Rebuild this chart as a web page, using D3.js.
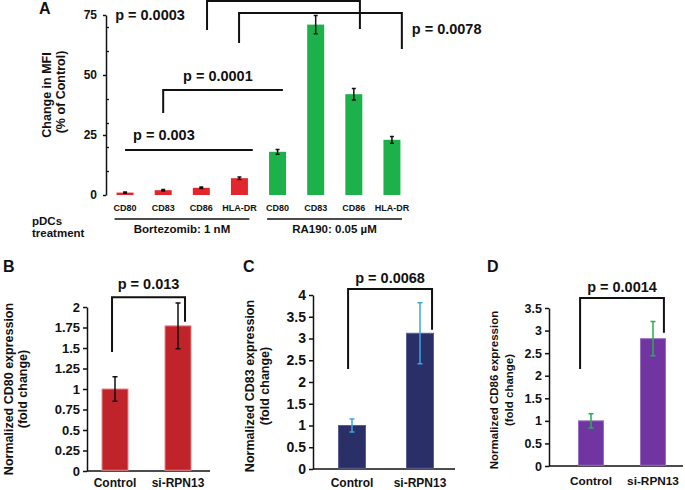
<!DOCTYPE html>
<html>
<head>
<meta charset="utf-8">
<script src="https://cdn.jsdelivr.net/npm/d3@7"></script>
<style>
body{margin:0;background:#fff}
svg{display:block;font-family:"Liberation Sans",Arial,sans-serif;font-weight:bold}
</style>
</head>
<body>
<svg width="685" height="490"></svg>
<script>
// ---- panel A data
var markersA = ["CD80", "CD83", "CD86", "HLA-DR", "CD80", "CD83", "CD86", "HLA-DR"];
var treatA = ["Bortezomib: 1 nM", "RA190: 0.05 µM"];
var mfiA = [1.0, 2.0, 3.0, 7.0, 18, 71, 42, 23];
var errA = [0.3, 0.3, 0.3, 0.5, 1.0, 3.8, 2.4, 1.4];
var ticksA = [0, 25, 50, 75];
var minorA = [10, 20, 30, 40, 60, 70];

// ---- panels B, C, D data
var conds = ["Control", "si-RPN13"];
var cd80 = [1.0, 1.77], cd80Err = [0.15, 0.28];
var cd83 = [1.0, 3.12], cd83Err = [0.15, 0.70];
var cd86 = [1.0, 2.82], cd86Err = [0.16, 0.38];
var pA = ["p = 0.003", "p = 0.0001", "p = 0.0003", "p = 0.0078"];
var pBD = ["p = 0.013", "p = 0.0068", "p = 0.0014"];

var svg = d3.select("svg");
var ink = "#111";

// ================= panel A =================
var xA = d3.scaleBand().domain(d3.range(8)).range([106, 411]).paddingInner(0.554).paddingOuter(0.277);
var yA = d3.scaleLinear().domain([0, 75]).range([195, 15]);
var bwA = xA.bandwidth();
var ix = d3.scaleLinear().domain([0, 7]).range([xA(0) + bwA / 2, xA(7) + bwA / 2]);
var colA = function (i) { return i < 4 ? "#E3262B" : "#1DB14B"; };

var gA = svg.append("g");
var axL = gA.append("g").attr("transform", "translate(106,0)")
    .call(d3.axisLeft(yA).tickValues(ticksA).tickSize(3).tickSizeOuter(0).tickPadding(6));
axL.selectAll("text").attr("font-size", 12).attr("font-weight", "bold").attr("fill", ink).attr("font-family", "Liberation Sans, Arial");
axL.selectAll("line,path").attr("stroke", ink).attr("stroke-width", 1.5);
var axM = gA.append("g").attr("transform", "translate(106,0)")
    .call(d3.axisRight(yA).tickValues(minorA).tickSize(3).tickFormat(""));
axM.selectAll("line").attr("stroke", ink).attr("stroke-width", 1.2);
axM.select("path").remove();

gA.selectAll("rect.bar").data(mfiA).enter().append("rect")
    .attr("x", function (d, i) { return xA(i); })
    .attr("y", function (d) { return yA(d); })
    .attr("width", bwA)
    .attr("height", function (d) { return yA(0) - yA(d); })
    .attr("fill", function (d, i) { return colA(i); });

function errBars(g, xs, vals, errs, y, col, cap, sw) {
    vals.forEach(function (v, i) {
        var cx = xs[i];
        g.append("path")
            .attr("d", "M" + cx + "," + y(v - errs[i]) + "V" + y(v + errs[i]) +
                "M" + (cx - cap) + "," + y(v - errs[i]) + "H" + (cx + cap) +
                "M" + (cx - cap) + "," + y(v + errs[i]) + "H" + (cx + cap))
            .attr("stroke", col).attr("stroke-width", sw).attr("fill", "none");
    });
}
errBars(gA, d3.range(8).map(function (i) { return xA(i) + bwA / 2; }), mfiA, errA, yA, ink, 2, 1.5);

gA.selectAll("text.cat").data(markersA).enter().append("text")
    .attr("x", function (d, i) { return xA(i) + bwA / 2; })
    .attr("y", 211).attr("text-anchor", "middle").attr("font-size", 9).attr("fill", ink)
    .text(function (d) { return d; });

[[0, 3], [4, 7]].forEach(function (r, k) {
    var x0 = xA(r[0]) - 2, x1 = xA(r[1]) + bwA + 1.5;
    gA.append("line").attr("x1", x0).attr("x2", x1).attr("y1", 219).attr("y2", 219)
        .attr("stroke", ink).attr("stroke-width", 1.5);
    gA.append("text").attr("x", (x0 + x1) / 2).attr("y", 233).attr("text-anchor", "middle")
        .attr("font-size", 11.5).attr("fill", ink).text(treatA[k]);
});
gA.append("text").attr("x", 32).attr("y", 225).attr("font-size", 11.5).attr("fill", ink).text("pDCs");
gA.append("text").attr("x", 32).attr("y", 237).attr("font-size", 11.5).attr("fill", ink).text("treatment");
gA.append("text").attr("x", 39).attr("y", 14).attr("font-size", 16).attr("fill", ink).text("A");

var tA = gA.append("text").attr("transform", "rotate(-90)").attr("text-anchor", "middle")
    .attr("font-size", 12.5).attr("fill", ink);
tA.append("tspan").attr("x", -95).attr("y", 51).text("Change in MFI");
tA.append("tspan").attr("x", -92).attr("y", 65).text("(% of Control)");

// brackets in bar-index / value units
var bracketsA = [
    { x0: 0, x1: 3.35, top: 18.75, tx: 0.21, ty: 22.9 },
    { x0: 1.0, x1: 4.14, top: 43.75, l: 34.2, tx: 1.52, ty: 47.3 },
    { x0: 2.15, x1: 6.16, top: 80.8, l: 68.75, r: 69.2, tx: -0.26, ty: 73.1 },
    { x0: 2.99, x1: 7.26, top: 75.8, l: 63.3, r: 60.8, tx: 7.52, ty: 66.9 }
];
bracketsA.forEach(function (b, k) {
    var d = b.l != null ? "M" + ix(b.x0) + "," + yA(b.l) + "V" + yA(b.top) : "M" + ix(b.x0) + "," + yA(b.top);
    d += "H" + ix(b.x1);
    if (b.r != null) d += "V" + yA(b.r);
    gA.append("path").attr("d", d).attr("fill", "none").attr("stroke", ink).attr("stroke-width", 2);
    gA.append("text").attr("x", ix(b.tx)).attr("y", yA(b.ty)).attr("font-size", 14.5)
        .attr("fill", ink).text(pA[k]);
});

// ================= panels B, C, D =================
var panels = [
    { label: "B", lx: 3, vals: cd80, errs: cd80Err, p: pBD[0], max: 2, step: 0.25,
      ax: 87, ax1: 210, y0: 471, y1: 307, c0: 115, c1: 178, bw: 27,
      fill: "#C1232A", edge: "#E58A8D", ecol: ink, tickFs: 13, catFs: 12, catY: 487,
      title: "Normalized CD80 expression", tyc: 389, tb: [13, 27], tFs: 12.5,
      legs: [0.39, 0.76], bl: 1.45, btop: 2.12, br: 1.82, pt: 2.22 },
    { label: "C", lx: 243, vals: cd83, errs: cd83Err, p: pBD[1], max: 4, step: 0.5,
      ax: 313, ax1: 455, y0: 469, y1: 295, c0: 352, c1: 420, bw: 28,
      fill: "#2B2F68", edge: "#5A5E90", ecol: "#3AA8E0", tickFs: 14, catFs: 12, catY: 487,
      title: "Normalized CD83 expression", tyc: 386, tb: [254, 269], tFs: 12.5,
      legs: [0.36, 0.93], bl: 2.3, btop: 4.14, br: 3.2, pt: 4.28 },
    { label: "D", lx: 487, vals: cd86, errs: cd86Err, p: pBD[2], max: 3.5, step: 0.5,
      ax: 549, ax1: 683, y0: 466, y1: 308, c0: 591, c1: 653, bw: 26,
      fill: "#7035A0", edge: "#9A6CC0", ecol: "#22B14C", tickFs: 12.5, catFs: 11.8, catY: 485,
      title: "Normalized CD86 expression", tyc: 390, tb: [498, 513], tFs: 11.5,
      legs: [0.08, 0.92], bl: 2.15, btop: 3.72, br: 2.95, pt: 3.85 }
];

panels.forEach(function (P) {
    var g = svg.append("g");
    var stp = P.c1 - P.c0;
    var x = d3.scaleBand().domain(conds).range([P.c0 - stp / 2, P.c1 + stp / 2])
        .paddingInner(1 - P.bw / stp).paddingOuter((1 - P.bw / stp) / 2);
    var y = d3.scaleLinear().domain([0, P.max]).range([P.y0, P.y1]);
    var bw = x.bandwidth();

    var ay = g.append("g").attr("transform", "translate(" + P.ax + ",0)")
        .call(d3.axisLeft(y).tickValues(d3.range(0, P.max + 1e-9, P.step)).tickSize(4).tickSizeOuter(0)
            .tickPadding(3).tickFormat(function (d) { return String(+d.toFixed(2)); }));
    ay.selectAll("text").attr("font-size", P.tickFs).attr("font-weight", "bold").attr("fill", ink)
        .attr("font-family", "Liberation Sans, Arial");
    ay.selectAll("line,path").attr("stroke", ink).attr("stroke-width", 1.5);
    g.append("line").attr("x1", P.ax).attr("x2", P.ax1).attr("y1", P.y0).attr("y2", P.y0)
        .attr("stroke", ink).attr("stroke-width", 1.5);

    g.selectAll("rect.bar").data(P.vals).enter().append("rect")
        .attr("x", function (d, i) { return x(conds[i]) + 0.5; })
        .attr("y", function (d) { return y(d); })
        .attr("width", bw - 1)
        .attr("height", function (d) { return y(0) - y(d) - 0.75; })
        .attr("fill", P.fill).attr("stroke", P.edge).attr("stroke-width", 1);
    errBars(g, conds.map(function (c) { return x(c) + bw / 2; }), P.vals, P.errs, y, P.ecol, 2.5, 1.5);

    g.selectAll("text.cat").data(conds).enter().append("text")
        .attr("x", function (d) { return x(d) + bw / 2; }).attr("y", P.catY)
        .attr("text-anchor", "middle").attr("font-size", P.catFs).attr("fill", ink)
        .text(function (d) { return d; });

    var lx = x(conds[0]) + bw * P.legs[0], rx = x(conds[1]) + bw * P.legs[1];
    g.append("path").attr("d", "M" + lx + "," + y(P.bl) + "V" + y(P.btop) + "H" + rx + "V" + y(P.br))
        .attr("fill", "none").attr("stroke", ink).attr("stroke-width", 2);
    g.append("text").attr("x", (lx + rx) / 2).attr("y", y(P.pt)).attr("text-anchor", "middle")
        .attr("font-size", 14.5).attr("fill", ink).text(P.p);

    g.append("text").attr("x", P.lx).attr("y", 272).attr("font-size", 16).attr("fill", ink).text(P.label);
    var tt = g.append("text").attr("transform", "rotate(-90)").attr("text-anchor", "middle")
        .attr("font-size", P.tFs).attr("fill", ink);
    tt.append("tspan").attr("x", -P.tyc).attr("y", P.tb[0]).text(P.title);
    tt.append("tspan").attr("x", -P.tyc).attr("y", P.tb[1]).text("(fold change)");
});
</script>
</body>
</html>
